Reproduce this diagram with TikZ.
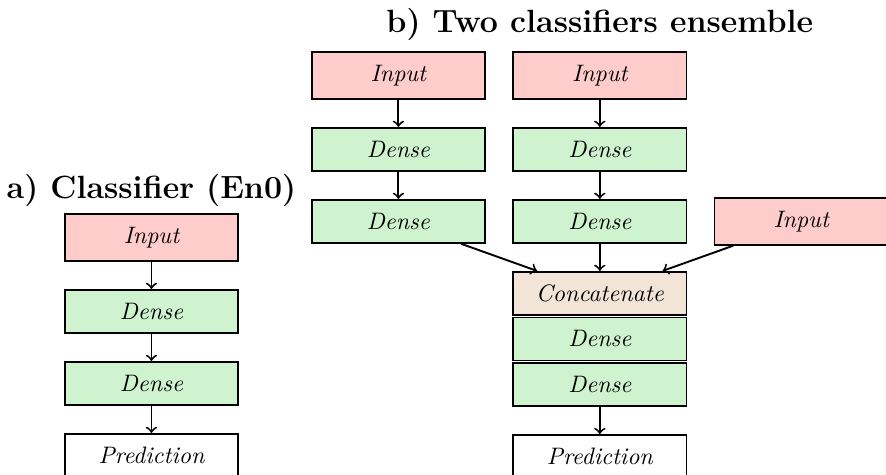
\documentclass[tikz,border=0pt]{standalone}
\usepackage{tikz}
\usetikzlibrary{positioning}
\definecolor{inputred}{RGB}{255,204,204}
\definecolor{densegreen}{RGB}{207,242,207}
\definecolor{concatbeige}{RGB}{242,229,216}
\begin{document}
\begin{tikzpicture}[node distance=0.40cm]
    \tikzstyle{every node} = [font=\itshape]
    \tikzstyle{layer} = [draw, thick, rectangle, minimum width=2.56cm, minimum height=0.635cm]
    \tikzstyle{inlayer} = [layer, fill=inputred, minimum height=0.69cm]
    \tikzstyle{dense} = [layer, fill=densegreen]
    \tikzstyle{concat} = [layer, fill=concatbeige]
    \tikzstyle{title} = [font=\fontsize{13.5}{16}\selectfont\bfseries, inner sep=0pt]
    \useasboundingbox (0,0) rectangle (13.08,-7.012);
    % a) single classifier
    \node[inlayer] (inA) at (2.236,-3.506) {Input};
    \node[dense, below=of inA] (denseA1) {Dense};
    \node[dense, below=of denseA1] (denseA2) {Dense};
    \node[layer, below=of denseA2] (predA) {Prediction};
    \node[title, above=0.09cm of inA] (titleA) {a) Classifier (En0)};

    % b) two classifiers
    \node[inlayer] (inB1) at (5.882,-1.114) {Input};
    \node[dense, below=of inB1] (denseB11) {Dense};
    \node[dense, below=of denseB11] (denseB12) {Dense};
    \node[inlayer, right=0.385cm of inB1] (inB2) {Input};
    \node[dense, below=of inB2] (denseB21) {Dense};
    \node[dense, below=of denseB21] (denseB22) {Dense};
    \node[inlayer, right=0.385cm of denseB22] (inC) {Input};
    \node[concat, below=of denseB22] (concat) {Concatenate};
    \node[dense, below=0.01cm of concat] (denseC1) {Dense};
    \node[dense, below=0.01cm of denseC1] (denseC2) {Dense};
    \node[layer, below=of denseC2] (predB) {Prediction};
    \node[title, above=0.15cm of inB2] (titleB) {b) Two classifiers ensemble};

    % Connections
    \draw[->, thick] (inA) -- (denseA1);
    \draw[->, thick] (denseA1) -- (denseA2);
    \draw[->, thick] (denseA2) -- (predA);
    \draw[->, thick] (inB1) -- (denseB11);
    \draw[->, thick] (denseB11) -- (denseB12);
    \draw[->, thick] (inB2) -- (denseB21);
    \draw[->, thick] (denseB21) -- (denseB22);
    \draw[->, thick] (denseB12) -- (concat);
    \draw[->, thick] (denseB22) -- (concat);
    \draw[->, thick] (inC) -- (concat);
    \draw[->, thick] (denseC2) -- (predB);
\end{tikzpicture}
\end{document}
